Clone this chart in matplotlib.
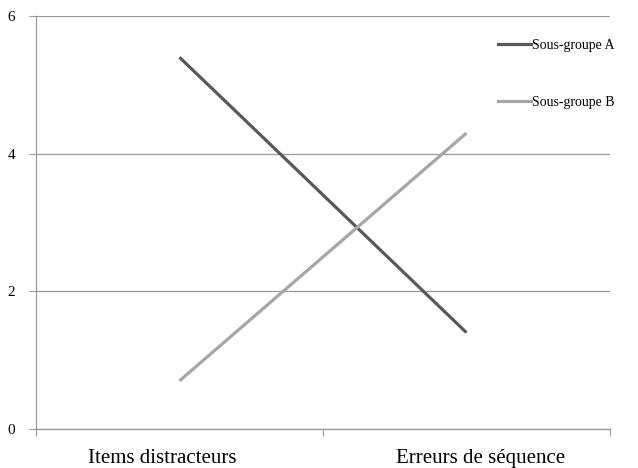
import matplotlib
matplotlib.use('Agg')
import matplotlib.pyplot as plt
import matplotlib.transforms as mtransforms
from matplotlib.lines import Line2D

plt.rcParams['font.family'] = ['Liberation Serif', 'DejaVu Serif']

categories = ['Items distracteurs', 'Erreurs de séquence']
groupe_a = [5.4, 1.4]
groupe_b = [0.7, 4.3]
series_names = ['Sous-groupe A', 'Sous-groupe B']
y_ticks = [0, 2, 4, 6]

fig = plt.figure(figsize=(6.38, 4.68), dpi=100)
ax = fig.add_axes([36 / 638, 39 / 468, 574 / 638, 413 / 468])

x = [0.5, 1.5]
ax.plot(x, groupe_a, color='#595959', lw=2.3, solid_capstyle='butt', zorder=3)
ax.plot(x, groupe_b, color='#a6a6a6', lw=2.3, solid_capstyle='butt', zorder=3)

ax.set_xlim(0, 2)
ax.set_ylim(0, 6)
ax.set_yticks(y_ticks)
ax.set_yticklabels([str(v) for v in y_ticks], fontsize=11)
ax.yaxis.grid(True, color='#999999', lw=0.9)
ax.set_axisbelow(True)

# category boundaries get the tick marks, names sit under each category
ax.set_xticks([0, 1, 2])
ax.set_xticklabels([])
ax.tick_params(axis='x', length=5, color='#999999', direction='out')
ax.tick_params(axis='y', length=5, color='#999999', pad=10)
label_tr = mtransforms.blended_transform_factory(ax.transData, ax.transAxes)
label_x = [0.44, 1.55]
for lx, name in zip(label_x, categories):
    ax.text(lx, -0.082, name, transform=label_tr, ha='center', va='baseline',
            fontsize=15)

for s in ['top', 'right']:
    ax.spines[s].set_visible(False)
for s in ['left', 'bottom']:
    ax.spines[s].set_color('#999999')
    ax.spines[s].set_linewidth(0.9)

handles = [Line2D([], [], color='#595959', lw=2.3),
           Line2D([], [], color='#a6a6a6', lw=2.3)]
leg = ax.legend(handles, series_names, loc='upper left', bbox_to_anchor=(0.795, 0.958),
                frameon=False, fontsize=10, handlelength=2.37, handletextpad=0.08,
                labelspacing=3.15, borderaxespad=0)

fig.savefig('out.png', dpi=100)
